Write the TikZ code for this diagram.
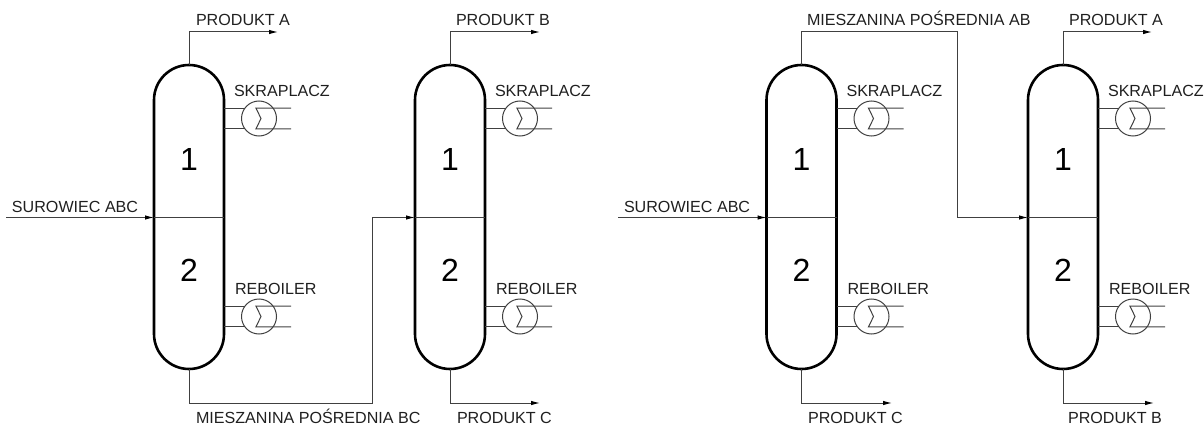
\documentclass[tikz,border=0pt]{standalone}
\usepackage{fontspec}
\setmainfont{Liberation Sans}
\usetikzlibrary{arrows.meta,calc}
\tikzset{
  x=1pt,y=-1pt,
  shell/.style={draw=black,line width=2.6pt},
  pipe/.style={draw=black!75,line width=1pt,line join=miter},
  flow/.style={pipe,-{Latex[length=9pt,width=4.5pt,black]}},
  label/.style={anchor=base west,inner sep=0pt,outer sep=0pt,font=\fontsize{16.1}{17}\selectfont,text=black!88},
  digit/.style={inner sep=0pt,font=\fontsize{32}{32}\selectfont,text=black},
  exch/.style={circle,draw=black!75,line width=1pt,minimum size=35pt,inner sep=0pt},
}
% name, centre x
\newcommand{\kolumna}[2]{%
  \draw[shell] (#2-35,100) .. controls (#2-35,80.7) and (#2-19.3,65) .. (#2,65)
     .. controls (#2+19.3,65) and (#2+35,80.7) .. (#2+35,100)
     -- (#2+35,334) .. controls (#2+35,353.3) and (#2+19.3,369) .. (#2,369)
     .. controls (#2-19.3,369) and (#2-35,353.3) .. (#2-35,334) -- cycle;
  \coordinate (#1t) at (#2,65);
  \coordinate (#1b) at (#2,369);
  \coordinate (#1l) at (#2-35,217.5);
  \coordinate (#1r) at (#2+35,217.5);
  \draw[pipe] (#1l) -- (#1r);
  \node[digit] (#1one) at (#2,159.5) {1};
  \node[digit] (#1two) at (#2,270) {2};
  \exchanger{#1c}{#2}{118.5}
  \exchanger{#1e}{#2}{316.5}
  \node[label] (#1cl) at (#2+45,96.5) {SKRAPLACZ};
  \node[label] (#1el) at (#2+46,294.5) {REBOILER};
}
% name, column centre x, y
\newcommand{\exchanger}[3]{%
  \node[exch] (#1) at (#2+70,#3) {};
  \draw[pipe] (#2+35,#3-10.3) -- ($(#1.center)+(-15,-10.3)$);
  \draw[pipe] (#2+35,#3+10.3) -- ($(#1.center)+(-15,10.3)$);
  \draw[pipe] (#2+102,#3-10.3) -- (#2+67,#3-10.3) -- (#2+72,#3) -- (#2+67,#3+10.3) -- (#2+102,#3+10.3);
}
\begin{document}
\begin{tikzpicture}
\useasboundingbox (0,0) rectangle (1204,425);
\kolumna{a}{189}
\kolumna{b}{450}
\kolumna{c}{801.5}
\kolumna{d}{1063}
% left scheme
\coordinate (in1) at (6,217.5);
\coordinate (outA) at (278,32);
\coordinate (outB) at (540,32);
\coordinate (outC) at (540,403);
\coordinate (midBC) at (372,403);
\draw[flow] (in1) -- (al);
\draw[flow] (at) |- (outA);
\draw[flow] (bt) |- (outB);
\draw[flow] (bb) |- (outC);
\draw[flow] (ab) |- (midBC) |- (bl);
\node[label] (l1) at (12,212.5) {SUROWIEC ABC};
\node[label] (l2) at (196,26) {PRODUKT A};
\node[label] (l3) at (456,26) {PRODUKT B};
\node[label] (l4) at (196,423.5) {MIESZANINA POŚREDNIA BC};
\node[label] (l5) at (457,423.5) {PRODUKT C};
% right scheme
\coordinate (in2) at (618,217.5);
\coordinate (midAB) at (957,32);
\coordinate (outA2) at (1152,32);
\coordinate (outC2) at (892,403);
\coordinate (outB2) at (1154,403);
\draw[flow] (in2) -- (cl);
\draw[flow] (ct) |- (midAB) |- (dl);
\draw[flow] (dt) |- (outA2);
\draw[flow] (cb) |- (outC2);
\draw[flow] (db) |- (outB2);
\node[label] (r1) at (624,212.5) {SUROWIEC ABC};
\node[label] (r2) at (807,26) {MIESZANINA POŚREDNIA AB};
\node[label] (r3) at (1069,26) {PRODUKT A};
\node[label] (r4) at (808,423.5) {PRODUKT C};
\node[label] (r5) at (1068,423.5) {PRODUKT B};
\end{tikzpicture}
\end{document}
